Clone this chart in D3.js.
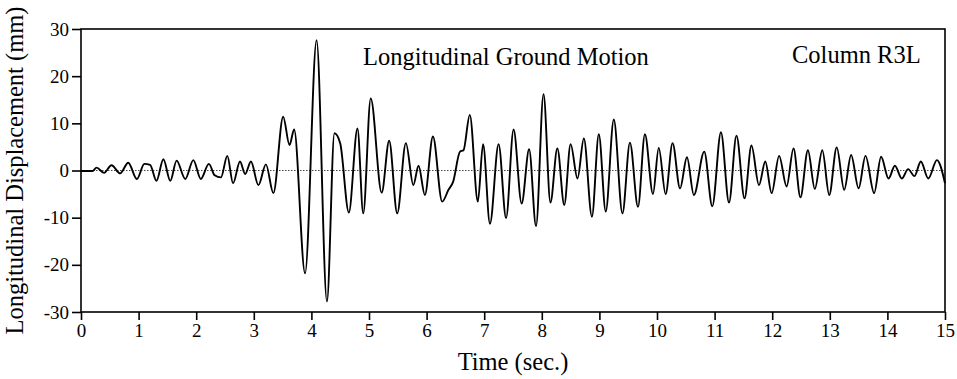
<!DOCTYPE html>
<html>
<head>
<meta charset="utf-8">
<script src="https://cdn.jsdelivr.net/npm/d3@7"></script>
<style>
  body { margin: 0; background: #fff; }
  text { font-family: "Liberation Serif", "Times New Roman", serif; fill: #000; }
</style>
</head>
<body>
<div id="chart"></div>
<script>
// time (s) of each turning point
const timeSec = [
  0, 0.2, 0.27, 0.40, 0.53, 0.68, 0.82, 0.97,
  1.10, 1.20, 1.31, 1.43, 1.55, 1.66, 1.81, 1.95,
  2.08, 2.22, 2.32, 2.43, 2.54, 2.64, 2.76, 2.85, 2.95,
  3.08, 3.21, 3.34, 3.51, 3.62, 3.70, 3.89,
  4.09, 4.27, 4.40, 4.50, 4.65, 4.80, 4.90,
  5.03, 5.22, 5.35, 5.49, 5.64, 5.77, 5.86, 5.97,
  6.11, 6.27, 6.38, 6.46, 6.58, 6.64, 6.75, 6.89, 6.98,
  7.10, 7.25, 7.38, 7.51, 7.65, 7.78, 7.90,
  8.03, 8.15, 8.27, 8.39, 8.50, 8.62, 8.73, 8.87, 8.99,
  9.11, 9.25, 9.40, 9.53, 9.67, 9.79, 9.93,
  10.03, 10.15, 10.27, 10.40, 10.52, 10.64, 10.82, 10.96,
  11.11, 11.25, 11.38, 11.52, 11.64, 11.77, 11.88, 11.99,
  12.12, 12.25, 12.37, 12.49, 12.62, 12.74, 12.87, 12.99,
  13.12, 13.25, 13.37, 13.50, 13.62, 13.77, 13.89,
  14.02, 14.13, 14.25, 14.36, 14.47, 14.58, 14.71, 14.86, 15.0
];
// displacement (mm) at those times
const dispMm = [
  -0.1, -0.1, 0.6, -0.5, 1.1, -0.6, 1.65, -1.8,
  1.4, 1.2, -2.2, 2.4, -2.2, 2.1, -1.8, 2.2,
  -1.8, 1.4, -1.0, -1.45, 3.1, -2.7, 1.9, -0.75, 1.9,
  -3.1, 1.3, -4.8, 11.4, 5.4, 8.7, -21.8,
  27.6, -27.8, 7.9, 5.8, -8.9, 8.9, -9.1,
  15.3, -4.7, 6.3, -9.1, 5.8, -3.1, 1.0, -5.2,
  7.2, -6.6, -4.1, -2.4, 4.0, 4.3, 11.8, -6.6, 5.6,
  -11.3, 5.6, -10.1, 8.7, -7.0, 4.5, -11.8,
  16.2, -6.8, 4.7, -7.3, 5.6, -1.7, 6.8, -9.8, 7.7,
  -8.7, 10.8, -9.1, 5.9, -7.7, 7.7, -5.0,
  4.8, -5.0, 5.8, -3.8, 2.8, -5.2, 4.0, -7.6,
  8.1, -6.8, 7.4, -5.9, 5.3, -3.1, 1.9, -4.8,
  3.1, -3.4, 4.7, -5.7, 4.3, -3.9, 4.3, -5.2,
  4.9, -4.1, 3.3, -3.8, 3.1, -4.8, 2.9,
  -1.7, 1.0, -1.7, 0.3, -1.2, 1.9, -1.7, 2.2, -2.7
];
const xTicks = d3.range(0, 16, 1);
const yTicks = [-30, -20, -10, 0, 10, 20, 30];

const W = 957, H = 379;
const margin = { top: 29, right: 12, bottom: 67, left: 81 };
const width = W - margin.left - margin.right;
const height = H - margin.top - margin.bottom;

const svg = d3.select("#chart")
  .append("svg")
  .attr("width", W)
  .attr("height", H);

const g = svg.append("g")
  .attr("transform", `translate(${margin.left},${margin.top})`);

const x = d3.scaleLinear().domain([0, 15]).range([0, width]);
const y = d3.scaleLinear().domain([-30, 30]).range([height, 0]);

// dotted zero line
g.append("line")
  .attr("x1", 0).attr("x2", width)
  .attr("y1", y(0)).attr("y2", y(0))
  .attr("stroke", "#444")
  .attr("stroke-width", 1)
  .attr("stroke-dasharray", "1.5,1.5");

// axes (plain hyphen for negatives, like the original)
const xAxis = g.append("g")
  .attr("transform", `translate(0,${height})`)
  .call(d3.axisBottom(x).tickValues(xTicks).tickSize(8).tickPadding(4).tickFormat(d => String(d)));
const yAxis = g.append("g")
  .call(d3.axisLeft(y).tickValues(yTicks).tickSize(9).tickPadding(3).tickFormat(d => String(d)));

[xAxis, yAxis].forEach(a => {
  a.select(".domain").remove();
  a.selectAll("line").attr("stroke", "#000").attr("stroke-width", 1.6);
  a.selectAll("text").style("font-size", "19px").attr("fill", "#000");
});

// frame
g.append("rect")
  .attr("width", width).attr("height", height)
  .attr("fill", "none")
  .attr("stroke", "#000")
  .attr("stroke-width", 1.6);

// trace
const pts = timeSec.map((t, i) => [t, dispMm[i]]);
const line = d3.line()
  .x(d => x(d[0]))
  .y(d => y(d[1]))
  .curve(d3.curveMonotoneX);

g.append("path")
  .datum(pts)
  .attr("fill", "none")
  .attr("stroke", "#000")
  .attr("stroke-width", 1.9)
  .attr("stroke-linejoin", "round")
  .attr("d", line);

// labels
g.append("text")
  .attr("x", 282).attr("y", 36)
  .style("font-size", "24.5px")
  .text("Longitudinal Ground Motion");

g.append("text")
  .attr("x", 711).attr("y", 34)
  .style("font-size", "24.5px")
  .text("Column R3L");

svg.append("text")
  .attr("x", margin.left + width / 2).attr("y", 370)
  .attr("text-anchor", "middle")
  .style("font-size", "24.5px")
  .text("Time (sec.)");

svg.append("text")
  .attr("transform", `translate(23,${margin.top + height / 2}) rotate(-90)`)
  .attr("text-anchor", "middle")
  .style("font-size", "24.5px")
  .text("Longitudinal Displacement (mm)");
</script>
</body>
</html>
